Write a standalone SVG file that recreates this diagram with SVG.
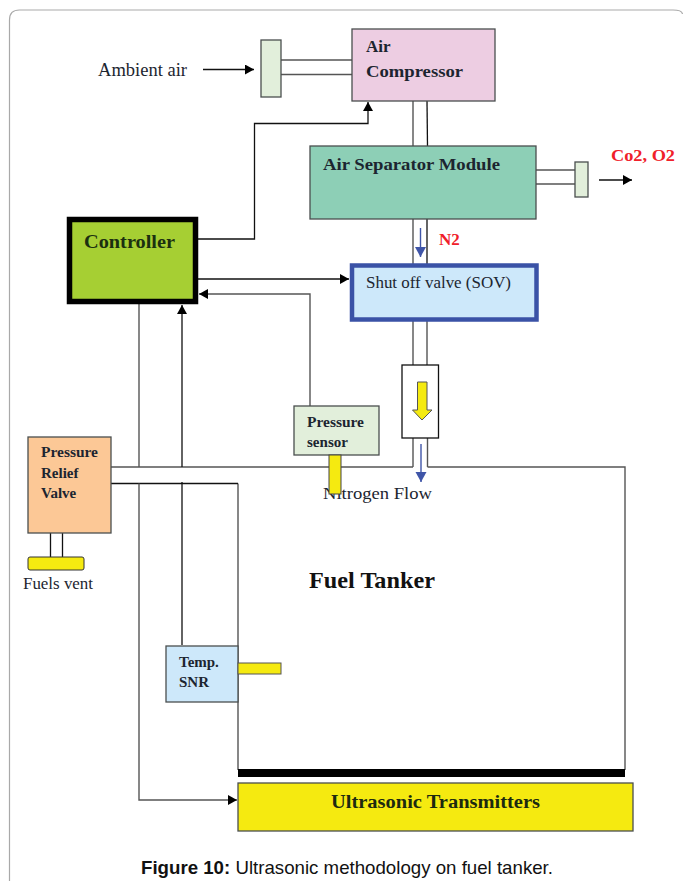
<svg xmlns="http://www.w3.org/2000/svg" width="683" height="881" viewBox="0 0 683 881">
<style>
.n{stroke:#4a4f4f;stroke-width:1.3}
.l{fill:none;stroke:#555;stroke-width:1.4}
.k{fill:none;stroke:#111;stroke-width:1.3}
.t{font-family:"Liberation Serif",serif;fill:#1c2530}
.b{font-weight:bold}
.y{fill:#f5ea10}
</style>
<defs>
<marker id="a" markerUnits="userSpaceOnUse" markerWidth="11" markerHeight="11" refX="9" refY="5" orient="auto"><path d="M0 0L9 5L0 10Z" fill="#000"/></marker>
<marker id="bl" markerUnits="userSpaceOnUse" markerWidth="11" markerHeight="13" refX="10" refY="5.5" orient="auto"><path d="M0 0L10 5.5L0 11Z" fill="#3f55a8"/></marker>
</defs>
<rect width="683" height="881" fill="#fff"/>
<path id="frame" d="M9.500 881V20Q9.500 10 19.500 10H673Q682 10 682.500 14" fill="none" stroke="#a9a9a9" stroke-width="1.2"/>
<g id="connectors">
<path class="l" d="M281 60H352M281 74.500H352M413 101V146"/>
<path class="k" d="M427 101L427.500 146"/>
<path class="l" d="M536 170H575M536 184H575"/>
<path class="l" d="M413 216V264"/>
<path class="k" d="M427 216V264"/>
<path class="l" d="M413 321V365M427 321V365"/>
<path class="l" d="M413 438V467M427.500 438V467"/>
<path class="l" d="M111 467H413M427.500 467H625V770M238 483.500V770"/>
<path class="k" d="M111 483.500H238M50.500 533V557M62.500 533V557"/>
<path class="k" d="M203 69.500H254" marker-end="url(#a)"/>
<path class="k" d="M599 180H632" marker-end="url(#a)"/>
<path class="k" d="M198 239H254.500V123.500H368V102" marker-end="url(#a)"/>
<path class="k" d="M198 279H349" marker-end="url(#a)"/>
<path class="l" d="M310 406V294H199" marker-end="url(#a)"/>
<path class="l" d="M139 304V467"/>
<path class="l" d="M139 483.500V800H237" marker-end="url(#a)"/>
<path class="k" d="M182 645V482M182 467V305" marker-end="url(#a)"/>
<path d="M420.500 228V257" fill="none" stroke="#3f55a8" stroke-width="1.4" marker-end="url(#bl)"/>
<path d="M421 444V482" fill="none" stroke="#3f55a8" stroke-width="1.4" marker-end="url(#bl)"/>
</g>
<g id="ambient-filter"><rect class="n" x="261" y="40" width="20" height="57" fill="#e2efdb"/></g>
<g id="ambient-label"><text class="t" x="98" y="76" font-size="18" textLength="89" lengthAdjust="spacingAndGlyphs">Ambient air</text></g>
<g id="air-compressor"><rect class="n" x="352" y="29" width="143" height="72" fill="#edcde2"/>
<text class="t b" x="366" y="52" font-size="17">Air</text><text class="t b" x="366" y="77" font-size="17.500" textLength="97" lengthAdjust="spacingAndGlyphs">Compressor</text></g>
<g id="air-separator"><rect class="n" x="310" y="146" width="226" height="73" fill="#8dcfb6"/>
<text class="t b" x="323" y="170" font-size="17.500" textLength="177" lengthAdjust="spacingAndGlyphs">Air Separator Module</text></g>
<g id="exhaust-filter"><rect class="n" x="575" y="162" width="13" height="35" fill="#e2efdb"/></g>
<text x="611" y="161" font-size="17" font-weight="bold" fill="#f0202a" font-family="'Liberation Serif',serif" textLength="64" lengthAdjust="spacingAndGlyphs">Co2, O2</text>
<text x="439" y="245" font-size="17" font-weight="bold" fill="#f0202a" font-family="'Liberation Serif',serif">N2</text>
<g id="sov"><rect x="352" y="265.500" width="184.500" height="54" fill="#cde8fa" stroke="#3a52a6" stroke-width="4.500"/>
<text class="t" x="366" y="288" font-size="16" textLength="145" lengthAdjust="spacingAndGlyphs">Shut off valve (SOV)</text></g>
<g id="controller"><rect x="69.500" y="219.500" width="126" height="82" fill="#a6cf33" stroke="#000" stroke-width="5.500"/>
<text class="t b" x="84" y="248" font-size="19" textLength="91" lengthAdjust="spacingAndGlyphs" style="fill:#1c3010">Controller</text></g>
<g id="flow-meter"><rect class="k" x="402" y="365" width="36.500" height="73" fill="#fff"/>
<path class="y" d="M417.500 382H427V410H432L422 420L412.500 410H417.500Z" stroke="#555" stroke-width="1"/></g>
<g id="pressure-sensor"><rect class="n" x="294" y="406" width="85" height="49" fill="#e2efdb"/>
<text class="t b" x="307" y="427" font-size="15" textLength="57" lengthAdjust="spacingAndGlyphs">Pressure</text><text class="t b" x="307" y="447" font-size="15" textLength="41" lengthAdjust="spacingAndGlyphs">sensor</text></g>
<text class="t" x="323" y="499" font-size="17" textLength="109" lengthAdjust="spacingAndGlyphs">Nitrogen Flow</text>
<rect class="y" x="329" y="455" width="12" height="39" stroke="#444" stroke-width="1"/>
<g id="pressure-relief"><rect class="n" x="28" y="437" width="83" height="96" fill="#fcc896"/>
<text class="t b" x="41" y="457" font-size="15" textLength="57" lengthAdjust="spacingAndGlyphs">Pressure</text><text class="t b" x="41" y="478" font-size="15">Relief</text><text class="t b" x="41" y="498" font-size="15">Valve</text></g>
<g id="fuels-vent"><rect class="y" x="28" y="557" width="56" height="13" rx="2" stroke="#333" stroke-width="1"/>
<text class="t" x="23" y="589" font-size="16" textLength="70" lengthAdjust="spacingAndGlyphs">Fuels vent</text></g>
<text class="t b" x="309" y="588" font-size="23" textLength="126" lengthAdjust="spacingAndGlyphs" style="fill:#111">Fuel Tanker</text>
<g id="temp-snr"><rect class="n" x="166" y="646" width="72" height="56" fill="#cde8fa"/>
<text class="t b" x="179" y="667" font-size="15">Temp.</text><text class="t b" x="179" y="687" font-size="15">SNR</text>
<rect class="y" x="238" y="663" width="43" height="11" stroke="#555" stroke-width="1"/></g>
<rect id="tank-base" x="238" y="769" width="387" height="8" fill="#000"/>
<g id="ultrasonic"><rect class="n" x="238" y="783" width="395" height="48" fill="#f5ea10"/>
<text class="t b" x="331" y="808" font-size="18" textLength="209" lengthAdjust="spacingAndGlyphs" style="fill:#1c2a10">Ultrasonic Transmitters</text></g>
<text x="141" y="874" font-size="18.500" fill="#111" font-family="'Liberation Sans',Arial,sans-serif" textLength="412" lengthAdjust="spacingAndGlyphs"><tspan font-weight="bold">Figure 10:</tspan> Ultrasonic methodology on fuel tanker.</text>
</svg>
